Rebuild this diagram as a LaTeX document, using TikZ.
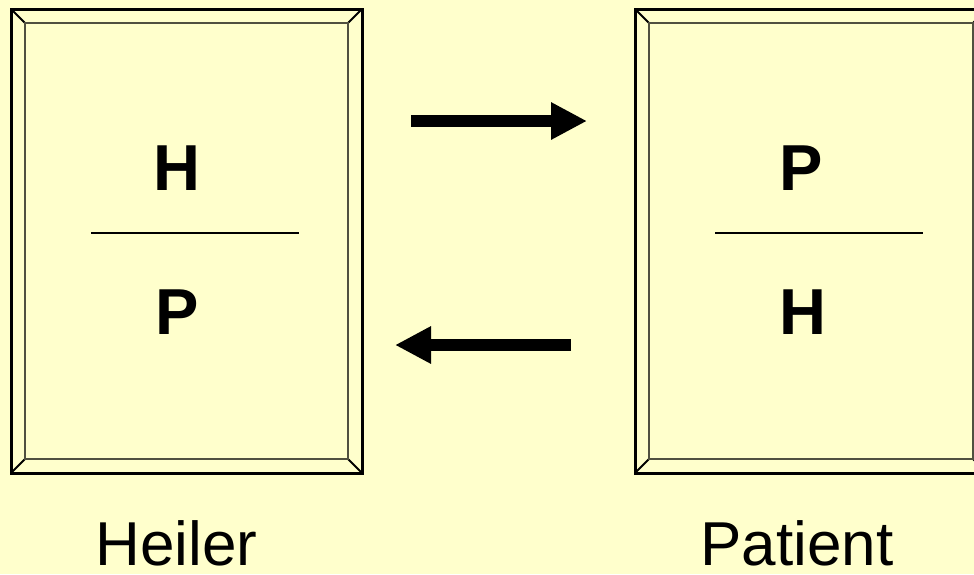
\documentclass[tikz,border=0pt]{standalone}
\usepackage{fontspec}
\setmainfont{Liberation Sans}
\usetikzlibrary{arrows.meta}
\definecolor{bgyellow}{HTML}{FFFFCC}
\definecolor{innergray}{HTML}{505040}
\begin{document}
\begin{tikzpicture}[x=1pt,y=-1pt,
  outerframe/.style={draw=black,line width=3pt,fill=bgyellow},
  innerframe/.style={draw=innergray,line width=2.2pt},
  bevel/.style={draw=black,line width=1.8pt},
  letter/.style={inner sep=0pt,font=\fontsize{65}{70}\selectfont\bfseries},
  caption/.style={inner sep=0pt,font=\fontsize{62}{66}\selectfont},
  divider/.style={draw=black,line width=2pt},
  bigarrow/.style={draw=black,line width=12pt,-{Triangle[length=36pt,width=35pt]}}]
\fill[bgyellow] (0,0) rectangle (974,574);
\useasboundingbox (0,0) rectangle (974,574);
% left frame
\draw[outerframe] (11,9) rectangle (362,473);
\draw[bevel] (11,9) -- (25,23) (362,9) -- (348,23) (11,473) -- (25,459) (362,473) -- (348,459);
\draw[innerframe] (25,23) rectangle (348,459);
% right frame
\draw[outerframe] (635,9) rectangle (987,473);
\draw[bevel] (635,9) -- (649,23) (987,9) -- (973,23) (635,473) -- (649,459) (987,473) -- (973,459);
\draw[innerframe] (649,23) rectangle (973,459);
% texts
\node[letter] (lh) at (177,168.5) {H};
\node[letter] (lp) at (177,312.5) {P};
\node[letter] (rp) at (801,168.5) {P};
\node[letter] (rh) at (802.5,312.5) {H};
\coordinate (ld1) at (91,233); \coordinate (ld2) at (299,233);
\coordinate (rd1) at (715,233); \coordinate (rd2) at (923,233);
\draw[divider] (ld1) -- (ld2);
\draw[divider] (rd1) -- (rd2);
\node[caption] (heiler) at (176.5,543) {Heiler};
\node[caption] (patient) at (797,543) {Patient};
% arrows
\coordinate (a1s) at (411,121); \coordinate (a1e) at (587,121);
\coordinate (a2s) at (571,345); \coordinate (a2e) at (395,345);
\draw[bigarrow] (a1s) -- (a1e);
\draw[bigarrow] (a2s) -- (a2e);
\end{tikzpicture}
\end{document}
